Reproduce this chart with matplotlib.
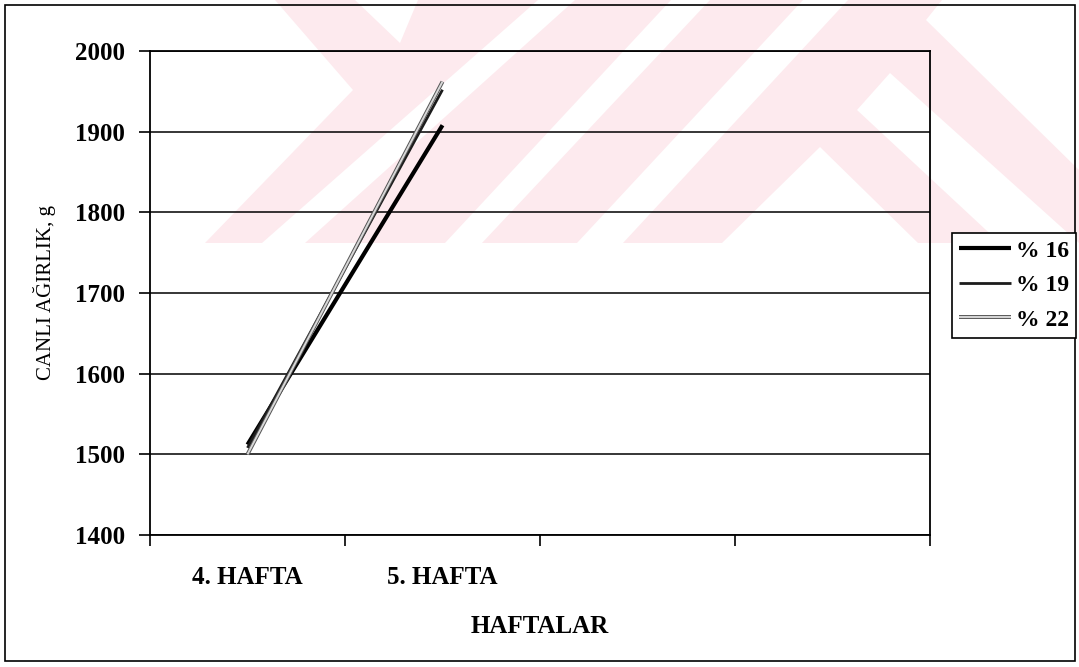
import matplotlib.pyplot as plt
import matplotlib.patheffects as pe
from matplotlib.patches import Polygon, Rectangle

# live weight (g) per week for the three protein levels
weeks = ['4. HAFTA', '5. HAFTA', '', '']
groups = ['% 16', '% 19', '% 22']
weight_16 = [1512, 1908]
weight_19 = [1508, 1952]
weight_22 = [1500, 1962]
yticks = list(range(1400, 2001, 100))

W, H = 1079, 667


def px(pts):
    # pixel coords (origin top-left) -> figure fraction
    return [(x / W, 1 - y / H) for x, y in pts]


plt.rcParams['font.family'] = ['Liberation Serif', 'DejaVu Serif']

fig = plt.figure(figsize=(W / 100, H / 100), dpi=100)

# faint background stamp
pink = '#fdeaee'
fig.patches.append(Polygon(px([(275, 0), (1079, 0), (1079, 243), (205, 243), (353, 90)]),
                           closed=True, fc=pink, ec='none', transform=fig.transFigure, zorder=-2))
gaps = [
    [(355, 0), (418, 0), (400, 43)],
    [(538, 0), (575, 0), (305, 243), (262, 243)],
    [(671, 0), (710, 0), (482, 243), (445, 243)],
    [(803, 0), (848, 0), (623, 243), (577, 243)],
    [(820, 147), (918, 243), (722, 243)],
    [(857, 110), (890, 73), (1079, 243), (1000, 243)],
    [(942, 0), (1079, 0), (1079, 170), (926, 20)],
]
for g in gaps:
    fig.patches.append(Polygon(px(g), closed=True, fc='white', ec='none',
                               transform=fig.transFigure, zorder=-1))

ax = fig.add_axes([150 / W, 1 - 535 / H, 780 / W, 484 / H])
ax.set_facecolor('none')

xs = list(range(len(weight_16)))
ax.plot(xs, weight_16, color='black', lw=3.0, solid_capstyle='butt', label=groups[0], zorder=3)
ax.plot(xs, weight_19, color='#1c1c1c', lw=2.0, solid_capstyle='butt', label=groups[1], zorder=3)
ax.plot(xs, weight_22, color='#d8d8d8', lw=1.4, solid_capstyle='butt', label=groups[2], zorder=3,
        path_effects=[pe.Stroke(linewidth=2.8, foreground='#555555'), pe.Normal()])

ax.set_xlim(-0.5, len(weeks) - 0.5)
ax.set_ylim(1400, 2000)
ax.set_yticks(yticks)
ax.yaxis.grid(True, color='black', lw=1.1)
ax.set_axisbelow(True)

# ticks on category boundaries, labels centred in each slot
ax.set_xticks([i - 0.5 for i in range(len(weeks) + 1)])
ax.set_xticklabels([])
ax.set_xticks(range(len(weeks)), minor=True)
ax.set_xticklabels(weeks, minor=True, fontsize=18, fontweight='bold')
ax.tick_params(axis='x', which='minor', length=0, pad=22)
ax.tick_params(axis='x', which='major', direction='out', length=8, width=1.2)
ax.tick_params(axis='y', direction='out', length=8, width=1.2, labelsize=18, pad=10)
for lab in ax.get_yticklabels():
    lab.set_fontweight('bold')

for s in ax.spines.values():
    s.set_linewidth(1.3)

ax.set_xlabel('HAFTALAR', fontsize=18, fontweight='bold')
ax.xaxis.set_label_coords(0.5, -0.165)
ax.set_ylabel('CANLI AĞIRLIK, g', fontsize=15)
ax.yaxis.set_label_coords(-0.12, 0.5)

leg = fig.legend(loc='upper left', bbox_to_anchor=(952 / W, 1 - 233 / H), frameon=True,
                 fancybox=False, edgecolor='black', framealpha=1,
                 prop={'weight': 'bold', 'size': 17}, handlelength=2.2, handletextpad=0.2,
                 labelspacing=0.55, borderpad=0.3, borderaxespad=0)
leg.get_frame().set_linewidth(1.2)

# outer chart border
fig.patches.append(Rectangle((5 / W, 1 - 661 / H), 1070 / W, 656 / H, fill=False,
                             ec='black', lw=1.2, transform=fig.transFigure, zorder=5))

fig.savefig('out.png', dpi=100)
